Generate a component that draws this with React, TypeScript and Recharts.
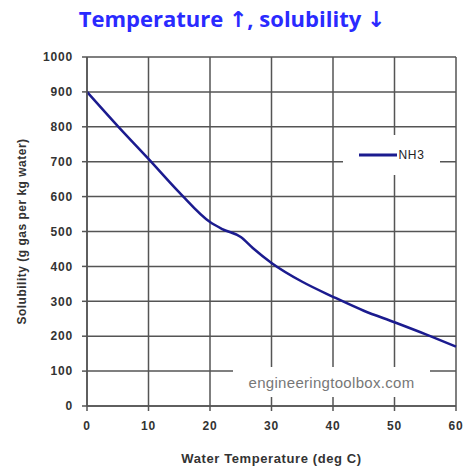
import React from 'react';
import { LineChart, Line, XAxis, YAxis, CartesianGrid } from 'recharts';

const temperatures = [0, 5, 10, 15, 20, 22, 25, 27, 30, 35, 40, 45, 50, 55, 60];
const nh3Solubility = [900, 802, 708, 612, 527, 507, 484, 452, 410, 356, 313, 273, 240, 206, 170];
const xTicks = [0, 10, 20, 30, 40, 50, 60];
const yTicks = [0, 100, 200, 300, 400, 500, 600, 700, 800, 900, 1000];

const data = temperatures.map((t, i) => ({ t, NH3: nh3Solubility[i] }));

const GRID = '#555';
const LINE = '#1b1b8f';
const TICK_STYLE = { fontFamily: 'Liberation Sans, Arial, sans-serif', fontWeight: 700, fontSize: 12, fill: '#333', letterSpacing: 0.8 };

const YLabel = (props: any) => {
  const vb = props.viewBox || {};
  const cx = 22;
  const cy = vb.y + vb.height / 2;
  return (
    <text x={cx} y={cy} transform={`rotate(-90 ${cx} ${cy})`} textAnchor="middle" dominantBaseline="central"
      style={{ fontFamily: 'Liberation Sans, Arial, sans-serif', fontWeight: 700, fontSize: 12, fill: '#333', letterSpacing: 0.5 }}>
      Solubility (g gas per kg water)
    </text>
  );
};

const XLabel = (props: any) => {
  const vb = props.viewBox || {};
  const cx = vb.x + vb.width / 2;
  return (
    <text x={cx} y={463} textAnchor="middle"
      style={{ fontFamily: 'Liberation Sans, Arial, sans-serif', fontWeight: 700, fontSize: 13, fill: '#333', letterSpacing: 0.6 }}>
      Water Temperature (deg C)
    </text>
  );
};

const ARROW = { fontFamily: 'DejaVu Sans, sans-serif', fontWeight: 700 as const };

export default function App() {
  return (
    <div style={{ position: 'absolute', left: 0, top: 0, width: 464, height: 468, background: '#fff' }}>
      <LineChart width={464} height={468} data={data} margin={{ top: 57, right: 8, bottom: 0, left: 0 }}>
        <CartesianGrid stroke={GRID} strokeWidth={1.5} horizontalValues={yTicks} verticalValues={xTicks} />
        <XAxis dataKey="t" type="number" domain={[0, 60]} ticks={xTicks} height={62}
          stroke={GRID} strokeWidth={1.5} tickSize={5} tickMargin={10} tick={TICK_STYLE}
          label={<XLabel />} />
        <YAxis type="number" domain={[0, 1000]} ticks={yTicks} width={87}
          stroke={GRID} strokeWidth={1.5} tickSize={5} tickMargin={9} tick={TICK_STYLE}
          label={<YLabel />} />
        <Line type="monotone" dataKey="NH3" stroke={LINE} strokeWidth={2.5} dot={false} isAnimationActive={false} />
      </LineChart>
      <div style={{ position: 'absolute', left: 0, top: 3, width: 464, textAlign: 'center', fontFamily: 'Open Sans, sans-serif', fontWeight: 700, fontSize: 22, color: '#2a2aff', lineHeight: '30px' }}>
        Temperature <span style={ARROW}>↑</span>, solubility <span style={ARROW}>↓</span>
      </div>
      <div style={{ position: 'absolute', left: 343, top: 135, width: 97, height: 40, background: '#fff', display: 'flex', alignItems: 'center', justifyContent: 'center' }}>
        <svg width={38} height={6} style={{ display: 'block' }}>
          <line x1={0} y1={3} x2={38} y2={3} stroke={LINE} strokeWidth={3} />
        </svg>
        <span style={{ fontFamily: 'Liberation Sans, Arial, sans-serif', fontSize: 12, color: '#222', marginLeft: 2, letterSpacing: 0.6 }}>NH3</span>
      </div>
      <div style={{ position: 'absolute', left: 233, top: 367, width: 197, height: 30, background: '#fff', display: 'flex', alignItems: 'center', justifyContent: 'center', fontFamily: 'Liberation Sans, Arial, sans-serif', fontSize: 15, color: '#777', letterSpacing: 0.3 }}>
        engineeringtoolbox.com
      </div>
    </div>
  );
}
